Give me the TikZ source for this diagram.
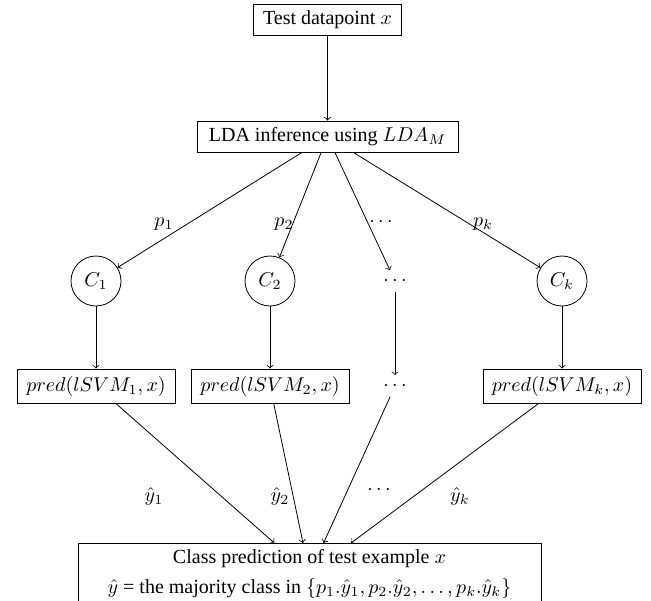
\documentclass[tikz,border=0pt]{standalone}
\usepackage[no-math]{fontspec}
\setmainfont{Liberation Serif}
\begin{document}
\begin{tikzpicture}[x=0.5pt,y=-0.5pt,
  box/.style={draw, inner sep=3pt, minimum height=15.5pt},
  predbox/.style={draw, inner sep=3pt, minimum height=17pt, minimum width=79pt},
  clus/.style={draw, circle, minimum size=25pt, inner sep=1pt},
  dotnode/.style={inner sep=3pt},
  lbl/.style={inner sep=1pt},
  arr/.style={->}]
\useasboundingbox (0,0) rectangle (651,600);
\node[box, minimum width=74pt] (test) at (327.5,20) {Test datapoint $x$};
\node[box, minimum width=130.5pt] (lda) at (327.5,136.5) {LDA inference using $LDA_M$};
\node[clus] (c1) at (96,281) {$C_1$};
\node[clus] (c2) at (270,281) {$C_2$};
\node[dotnode] (cd) at (395,281) {$\cdots$};
\node[clus] (ck) at (562,281) {$C_k$};
\node[predbox] (s1) at (96,386) {$pred(lSVM_1, x)$};
\node[predbox] (s2) at (270,386) {$pred(lSVM_2, x)$};
\node[dotnode] (sd) at (395,386) {$\cdots$};
\node[predbox] (sk) at (562,386) {$pred(lSVM_k, x)$};
\node[draw, inner sep=3pt, align=center, minimum width=231.5pt, anchor=north] (out) at (309.5,543)
  {Class prediction of test example $x$\\[3pt] $\hat{y}$ = the majority class in $\{p_1.\hat{y}_1, p_2.\hat{y}_2, \ldots, p_k.\hat{y}_k\}$};
\draw[arr] (test) -- (lda);
\draw[arr] (lda) -- (c1);
\draw[arr] (lda) -- (c2);
\draw[arr] (lda) -- (cd);
\draw[arr] (lda) -- (ck);
\draw[arr] (c1) -- (s1);
\draw[arr] (c2) -- (s2);
\draw[arr] (cd) -- (sd);
\draw[arr] (ck) -- (sk);
\draw[arr] (s1) -- (out);
\draw[arr] (s2) -- (out);
\draw[arr] (sd) -- (out);
\draw[arr] (sk) -- (out);
\node[lbl] (lp1) at (164,224) {$p_1$};
\node[lbl] (lp2) at (284,224) {$p_2$};
\node[lbl] (lpd) at (381,222) {$\cdots$};
\node[lbl] (lpk) at (483,224) {$p_k$};
\node[lbl] (ly1) at (154,496) {$\hat{y}_1$};
\node[lbl] (ly2) at (280,496) {$\hat{y}_2$};
\node[lbl] (lyd) at (379,490) {$\cdots$};
\node[lbl] (lyk) at (460,496) {$\hat{y}_k$};
\end{tikzpicture}
\end{document}
